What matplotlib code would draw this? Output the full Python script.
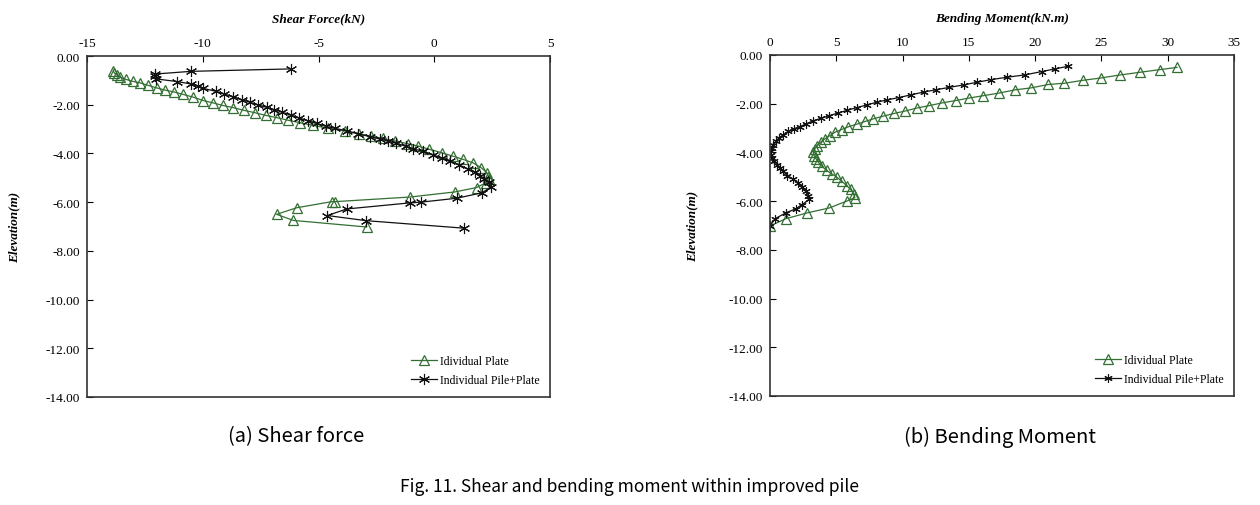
import matplotlib
matplotlib.use("Agg")
import matplotlib.pyplot as plt

plt.rcParams["axes.unicode_minus"] = False

# ---- shear force (kN) vs elevation (m) ----
shear_plate_elev = [-0.60, -0.70, -0.78, -0.87, -0.96, -1.04, -1.10, -1.20, -1.31, -1.40,
                    -1.48, -1.58, -1.69, -1.83, -1.92, -2.03, -2.12, -2.23, -2.33, -2.44,
                    -2.53, -2.64, -2.74, -2.85, -2.97, -3.08, -3.19, -3.29, -3.38, -3.49,
                    -3.60, -3.70, -3.83, -3.97, -4.11, -4.24, -4.38, -4.58, -4.79, -4.96,
                    -5.06, -5.20, -5.40, -5.58, -5.79, -5.98, -5.98, -6.23, -6.50, -6.75,
                    -7.02]
shear_plate = [-13.86, -13.82, -13.72, -13.57, -13.32, -13.03, -12.71, -12.38, -11.99, -11.63,
               -11.23, -10.84, -10.41, -9.98, -9.57, -9.14, -8.68, -8.22, -7.74, -7.27,
               -6.81, -6.30, -5.80, -5.22, -4.58, -3.86, -3.24, -2.73, -2.23, -1.70,
               -1.15, -0.69, -0.21, 0.32, 0.80, 1.23, 1.66, 2.02, 2.27, 2.34,
               2.38, 2.24, 1.83, 0.90, -1.05, -4.29, -4.43, -5.94, -6.81, -6.09,
               -2.92]

shear_pile_elev = [-0.53, -0.63, -0.74, -0.84, -0.94, -1.05, -1.15, -1.24, -1.33, -1.45,
                   -1.56, -1.67, -1.79, -1.90, -2.01, -2.11, -2.20, -2.31, -2.42, -2.55,
                   -2.66, -2.76, -2.89, -2.97, -3.07, -3.20, -3.31, -3.41, -3.49, -3.58,
                   -3.71, -3.82, -3.91, -4.05, -4.19, -4.32, -4.47, -4.64, -4.77, -4.91,
                   -5.05, -5.19, -5.39, -5.62, -5.84, -6.00, -6.03, -6.28, -6.55, -6.76,
                   -7.07]
shear_pile = [-6.19, -10.50, -12.06, -12.05, -12.02, -11.10, -10.50, -10.20, -9.98, -9.43,
              -9.08, -8.68, -8.32, -7.96, -7.60, -7.24, -6.91, -6.56, -6.20, -5.83,
              -5.44, -5.08, -4.68, -4.29, -3.78, -3.28, -2.78, -2.34, -2.00, -1.65,
              -1.22, -0.90, -0.47, -0.07, 0.32, 0.68, 1.08, 1.44, 1.76, 1.98,
              2.16, 2.38, 2.44, 2.05, 0.97, -0.57, -1.05, -3.78, -4.62, -2.95,
              1.30]

# ---- bending moment (kN.m) vs elevation (m) ----
moment_plate_elev = [-0.51, -0.60, -0.71, -0.82, -0.94, -1.04, -1.16, -1.21, -1.35, -1.43,
                     -1.56, -1.67, -1.77, -1.87, -1.97, -2.08, -2.18, -2.30, -2.40, -2.51,
                     -2.62, -2.73, -2.84, -2.95, -3.06, -3.17, -3.31, -3.44, -3.58, -3.72,
                     -3.85, -3.99, -4.13, -4.26, -4.40, -4.56, -4.74, -4.88, -5.01, -5.18,
                     -5.36, -5.52, -5.70, -5.86, -6.00, -6.28, -6.48, -6.72, -7.02]
moment_plate = [30.7, 29.4, 27.9, 26.4, 25.0, 23.6, 22.2, 21.0, 19.7, 18.5,
                17.3, 16.1, 15.0, 14.0, 12.95, 12.0, 11.06, 10.2, 9.35, 8.55,
                7.8, 7.16, 6.54, 5.9, 5.4, 4.9, 4.52, 4.15, 3.82, 3.57,
                3.39, 3.27, 3.32, 3.47, 3.64, 3.9, 4.27, 4.65, 5.03, 5.4,
                5.78, 6.08, 6.33, 6.4, 5.78, 4.47, 2.82, 1.2, 0.0]

moment_pile_elev = [-0.46, -0.57, -0.68, -0.82, -0.91, -1.01, -1.12, -1.23, -1.33, -1.43,
                    -1.52, -1.64, -1.75, -1.84, -1.94, -2.05, -2.16, -2.27, -2.38, -2.49,
                    -2.60, -2.70, -2.83, -2.94, -3.03, -3.14, -3.27, -3.40, -3.54, -3.68,
                    -3.81, -3.95, -4.09, -4.22, -4.36, -4.50, -4.64, -4.78, -4.95, -5.08,
                    -5.25, -5.42, -5.59, -5.77, -5.93, -6.15, -6.31, -6.48, -6.72, -7.02]
moment_pile = [22.5, 21.5, 20.5, 19.2, 17.9, 16.7, 15.6, 14.6, 13.5, 12.5,
               11.6, 10.6, 9.7, 8.85, 8.05, 7.3, 6.54, 5.83, 5.15, 4.47,
               3.82, 3.27, 2.7, 2.26, 1.8, 1.38, 1.0, 0.7, 0.45, 0.25,
               0.13, 0.05, 0.05, 0.13, 0.3, 0.55, 0.75, 1.0, 1.31, 1.71,
               2.14, 2.39, 2.72, 2.9, 2.97, 2.39, 1.96, 1.2, 0.38, 0.0]

y_ticks = [0, -2, -4, -6, -8, -10, -12, -14]
shear_ticks = [-15, -10, -5, 0, 5]
moment_ticks = [0, 5, 10, 15, 20, 25, 30, 35]

green = "#336e33"
serif = ["Liberation Serif", "DejaVu Serif"]
sans = ["Noto Sans CJK KR", "DejaVu Sans"]

fig = plt.figure(figsize=(12.6, 5.06), dpi=100)
W, H = 1260, 506


def px_axes(x0, y0, x1, y1):
    return fig.add_axes([x0 / W, 1 - y1 / H, (x1 - x0) / W, (y1 - y0) / H])


def style(ax, xlim, xticks, xlabel, ylabelpad):
    ax.set_xlim(*xlim)
    ax.set_ylim(-14, 0)
    ax.xaxis.tick_top()
    ax.xaxis.set_label_position("top")
    ax.set_xticks(xticks)
    ax.set_yticks(y_ticks)
    ax.set_yticklabels([f"{v:.2f}" if v != 0 else "0.00" for v in y_ticks])
    ax.tick_params(direction="in", length=4, labelsize=9.5, pad=5)
    for lab in ax.get_xticklabels() + ax.get_yticklabels():
        lab.set_family(serif)
    for s in ax.spines.values():
        s.set_linewidth(1.2)
        s.set_color("#333333")
    ax.set_xlabel(xlabel, family=serif, fontsize=9.5, fontweight="bold",
                  fontstyle="italic", labelpad=11)
    ax.set_ylabel("Elevation(m)", family=serif, fontsize=9.5, fontweight="bold",
                  fontstyle="italic", labelpad=ylabelpad)


star = (6, 2, 0)
leg_kw = dict(loc="lower right", frameon=False, prop={"family": serif, "size": 8.5},
              handlelength=2.2, handletextpad=0.2, labelspacing=0.6, borderaxespad=0.5)

ax1 = px_axes(87, 57, 550, 398)
ax1.plot(shear_plate, shear_plate_elev, color=green, lw=0.9, marker="^",
         ms=7, mfc="none", mec=green, mew=0.9, label="Idividual Plate")
ax1.plot(shear_pile, shear_pile_elev, color="#111111", lw=0.9, marker=star,
         ms=8, mec="#111111", mew=0.8, label="Individual Pile+Plate")
style(ax1, (-15, 5), shear_ticks, "Shear Force(kN)", 18)
ax1.legend(**leg_kw)

ax2 = px_axes(770, 56, 1234, 397)
ax2.plot(moment_plate, moment_plate_elev, color=green, lw=0.9, marker="^",
         ms=7, mfc="none", mec=green, mew=0.9, label="Idividual Plate")
ax2.plot(moment_pile, moment_pile_elev, color="#111111", lw=0.9, marker=star,
         ms=6, mec="#111111", mew=0.8, label="Individual Pile+Plate")
style(ax2, (0, 35), moment_ticks, "Bending Moment(kN.m)", 22)
ax2.legend(**leg_kw)

fig.text(296 / W, 1 - 437 / H, "(a) Shear force", family=sans, fontsize=14.5,
         ha="center", va="center")
fig.text(1000 / W, 1 - 437 / H, "(b) Bending Moment", family=sans, fontsize=14.5,
         ha="center", va="center")
fig.text(630 / W, 1 - 487 / H, "Fig. 11. Shear and bending moment within improved pile",
         family=sans, fontsize=12.5, ha="center", va="center")

fig.savefig("out.png", dpi=100)
plt.close(fig)
